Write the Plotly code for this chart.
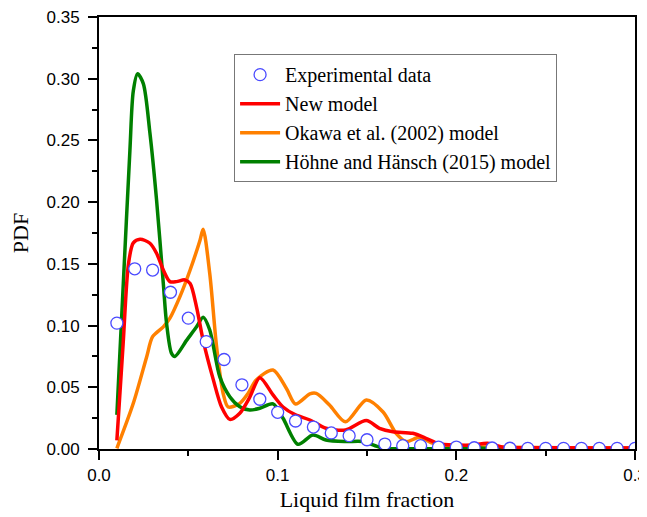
import plotly.graph_objects as go

# Experimental data
exp_x = [0.01, 0.02, 0.03, 0.04, 0.05, 0.06, 0.07, 0.08, 0.09, 0.10,
         0.11, 0.12, 0.13, 0.14, 0.15, 0.16, 0.17, 0.18, 0.19, 0.20,
         0.21, 0.22, 0.23, 0.24, 0.25, 0.26, 0.27, 0.28, 0.29, 0.30]
exp_y = [0.102, 0.146, 0.145, 0.127, 0.106, 0.087, 0.0725, 0.052, 0.0403, 0.0297,
         0.0227, 0.0178, 0.013, 0.0108, 0.0075, 0.004, 0.0027, 0.0027, 0.0016, 0.0016,
         0.001, 0.0008, 0.0006, 0.0005, 0.0005, 0.0005, 0.0005, 0.0005, 0.0005, 0.0005]

# New model
new_x = [0.010, 0.0135, 0.0165, 0.0192, 0.023, 0.0285, 0.0322, 0.036, 0.0397, 0.0434,
         0.048, 0.051, 0.0546, 0.0583, 0.064, 0.0686, 0.0732, 0.0788, 0.0844, 0.09,
         0.0974, 0.103, 0.110, 0.118, 0.127, 0.138, 0.1496, 0.157, 0.1645, 0.1756,
         0.183, 0.1905, 0.200, 0.209, 0.2175, 0.226, 0.24, 0.26, 0.28, 0.30]
new_y = [0.007, 0.085, 0.150, 0.167, 0.170, 0.1667, 0.1586, 0.145, 0.1356, 0.1356,
         0.137, 0.134, 0.115, 0.088, 0.056, 0.034, 0.024, 0.029, 0.042, 0.0578,
         0.0438, 0.034, 0.0276, 0.0235, 0.0168, 0.0154, 0.023, 0.0168, 0.014, 0.0127,
         0.0087, 0.004, 0.0032, 0.0032, 0.0046, 0.0014, 0.001, 0.001, 0.0008, 0.0008]

# Okawa et al. (2002) model
oka_x = [0.010, 0.0192, 0.0267, 0.030, 0.036, 0.0397, 0.0453, 0.051, 0.0565, 0.0583,
         0.062, 0.0658, 0.0695, 0.0723, 0.0788, 0.0834, 0.088, 0.0974, 0.1049, 0.110,
         0.118, 0.1216, 0.129, 0.138, 0.1496, 0.159, 0.1663, 0.172, 0.1793, 0.187,
         0.194, 0.21, 0.23, 0.26, 0.30]
oka_y = [0.0006, 0.037, 0.0748, 0.091, 0.099, 0.106, 0.1234, 0.145, 0.169, 0.178,
         0.142, 0.083, 0.045, 0.034, 0.037, 0.045, 0.056, 0.064, 0.049, 0.0365,
         0.0446, 0.045, 0.0357, 0.022, 0.0397, 0.030, 0.0127, 0.006, 0.0095, 0.0046,
         0.0032, 0.002, 0.0015, 0.001, 0.001]

# Hoehne and Haensch (2015) model
hoh_x = [0.010, 0.0136, 0.0173, 0.0192, 0.0216, 0.0248, 0.0285, 0.0322, 0.036, 0.0378,
         0.0406, 0.0425, 0.049, 0.0546, 0.0583, 0.062, 0.0676, 0.0732, 0.0788, 0.0844,
         0.09, 0.0974, 0.103, 0.1114, 0.1197, 0.127, 0.138, 0.1477, 0.157, 0.162,
         0.18, 0.20, 0.21, 0.22, 0.24, 0.30]
hoh_y = [0.0276, 0.134, 0.242, 0.290, 0.304, 0.296, 0.256, 0.202, 0.134, 0.102,
         0.0775, 0.075, 0.088, 0.099, 0.1067, 0.0964, 0.0586, 0.0424, 0.0343, 0.0316,
         0.033, 0.0365, 0.0249, 0.0038, 0.0113, 0.0073, 0.006, 0.006, 0.0014, 0.0003,
         0.0002, 0.0005, 0.001, 0.0003, 0.0002, 0.0002]

serif = "Times New Roman, Liberation Serif, serif"
sans = "Arial, Liberation Sans, sans-serif"

fig = go.Figure()
fig.add_trace(go.Scatter(x=oka_x, y=oka_y, mode="lines", name="Okawa et al. (2002) model",
                         line=dict(color="#ff8000", width=3.5, shape="spline", smoothing=0.8),
                         legendrank=3))
fig.add_trace(go.Scatter(x=hoh_x, y=hoh_y, mode="lines", name="Höhne and Hänsch (2015) model",
                         line=dict(color="#008000", width=3.5, shape="spline", smoothing=0.8),
                         legendrank=4))
fig.add_trace(go.Scatter(x=new_x, y=new_y, mode="lines", name="New model",
                         line=dict(color="#ff0000", width=3.5, shape="spline", smoothing=0.8),
                         legendrank=2))
fig.add_trace(go.Scatter(x=exp_x, y=exp_y, mode="markers", name="Experimental data",
                         marker=dict(symbol="circle", size=12, color="white",
                                     line=dict(color="#4a4aff", width=1.3)),
                         legendrank=1))

axis_common = dict(showline=True, linecolor="black", linewidth=2, mirror=True,
                   ticks="outside", ticklen=9, tickwidth=2, tickcolor="black",
                   showgrid=False, zeroline=False, automargin=False,
                   ticklabeloverflow="allow",
                   tickfont=dict(family=sans, size=17, color="black"))

# page body has an 8px default margin; figure size/margins compensate for it
fig.update_layout(
    width=639, height=509,
    margin=dict(l=91, r=12, t=9, b=68),
    plot_bgcolor="white", paper_bgcolor="white",
    xaxis=dict(range=[0, 0.3], dtick=0.1, tickformat=".1f", ticklabelstandoff=1,
               minor=dict(ticks="outside", ticklen=5, tickwidth=2, dtick=0.05, tickcolor="black"),
               title=dict(text="Liquid film fraction", font=dict(family=serif, size=22, color="black"),
                          standoff=7),
               **axis_common),
    yaxis=dict(range=[0, 0.35], dtick=0.05, tickformat=".2f", ticklabelstandoff=5,
               minor=dict(ticks="outside", ticklen=5, tickwidth=2, dtick=0.025, tickcolor="black"),
               title=dict(text="PDF", font=dict(family=serif, size=22, color="black"),
                          standoff=15),
               **axis_common),
    legend=dict(x=0.252, y=0.914, xanchor="left", yanchor="top",
                bgcolor="white", bordercolor="#777777", borderwidth=1,
                font=dict(family=serif, size=20, color="black"),
                itemwidth=40, tracegroupgap=0),
    showlegend=True,
)

fig.write_html("out.html")
